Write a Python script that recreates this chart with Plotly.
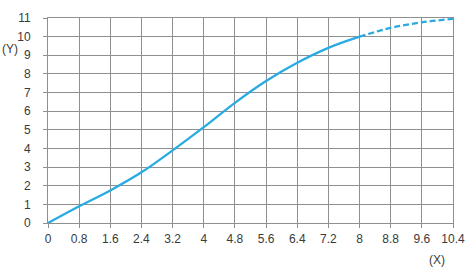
import plotly.graph_objects as go

# data
x_solid = [0, 0.8, 1.6, 2.4, 3.2, 4.0, 4.8, 5.6, 6.4, 7.2, 8.0]
y_solid = [0, 0.9, 1.75, 2.72, 3.9, 5.14, 6.45, 7.62, 8.6, 9.4, 10.0]
x_dash = [8.0, 8.8, 9.6, 10.4]
y_dash = [10.0, 10.47, 10.77, 10.95]

x_ticks = [0, 0.8, 1.6, 2.4, 3.2, 4.0, 4.8, 5.6, 6.4, 7.2, 8.0, 8.8, 9.6, 10.4]
x_tick_labels = ["0", "0.8", "1.6", "2.4", "3.2", "4", "4.8", "5.6", "6.4", "7.2", "8", "8.8", "9.6", "10.4"]
y_ticks = list(range(0, 12))
y_tick_labels = [str(v) for v in y_ticks]

line_color = "#29abe2"
grid_color = "#8f8f8f"
text_color = "#3a3a3a"
font_family = "Liberation Sans, Arial, sans-serif"

fig = go.Figure()
fig.add_trace(go.Scatter(x=x_solid, y=y_solid, mode="lines",
                         line=dict(color=line_color, width=2.3, shape="spline", smoothing=1.0),
                         showlegend=False, hoverinfo="skip"))
fig.add_trace(go.Scatter(x=x_dash, y=y_dash, mode="lines",
                         line=dict(color=line_color, width=2.3, shape="spline", dash="6px,3px"),
                         showlegend=False, hoverinfo="skip"))

axis_common = dict(showgrid=True, gridcolor=grid_color, gridwidth=1,
                   zeroline=False, showline=True, linecolor=grid_color, linewidth=1,
                   mirror=True, ticks="outside", ticklen=4, tickcolor=grid_color,
                   tickfont=dict(family=font_family, size=12, color=text_color))

fig.update_xaxes(range=[0, 10.4], tickmode="array", tickvals=x_ticks, ticktext=x_tick_labels,
                 ticklabelstandoff=1, **axis_common)
fig.update_yaxes(range=[0, 11], tickmode="array", tickvals=y_ticks, ticktext=y_tick_labels,
                 ticklabelstandoff=10, **axis_common)

fig.add_annotation(text="(Y)", xref="paper", yref="paper", x=-0.093, y=0.851,
                   showarrow=False, xanchor="center", yanchor="middle",
                   font=dict(family=font_family, size=12, color=text_color))
fig.add_annotation(text="(X)", xref="paper", yref="paper", x=0.961, y=-0.179,
                   showarrow=False, xanchor="center", yanchor="middle",
                   font=dict(family=font_family, size=12, color=text_color))

fig.update_layout(width=476, height=269, margin=dict(l=48, r=16, t=11, b=46),
                  paper_bgcolor="white", plot_bgcolor="white")

fig.write_html("out.html")
